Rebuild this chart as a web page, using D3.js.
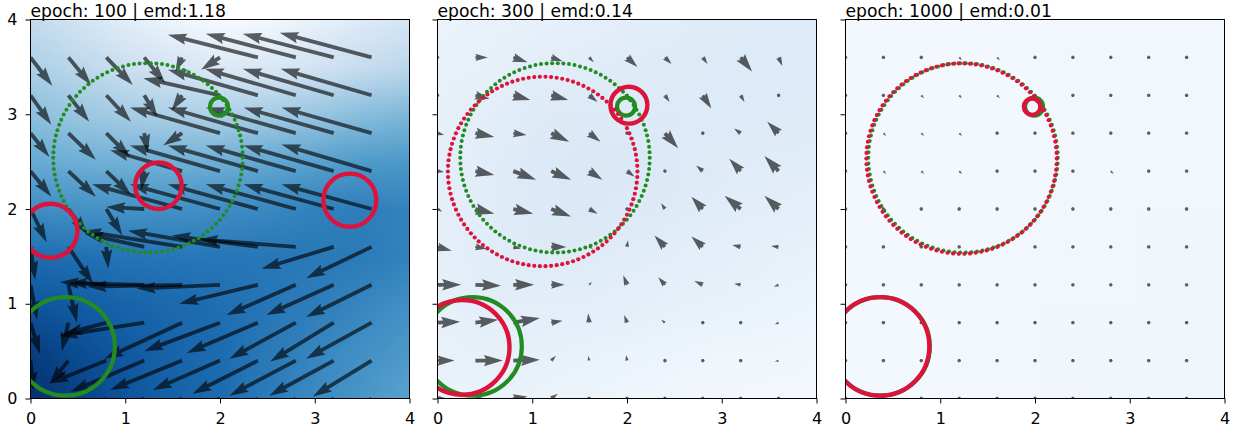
<!DOCTYPE html>
<html>
<head>
<meta charset="utf-8">
<script src="https://cdn.jsdelivr.net/npm/d3@7"></script>
<style>
  body { margin: 0; background: #fff; }
  svg { display: block; }
  text { font-family: "DejaVu Sans", sans-serif; fill: #000; }
</style>
</head>
<body>
<div id="chart"></div>
<script>
// Panel titles and axis ticks
var titles = ["epoch: 100 | emd:1.18", "epoch: 300 | emd:0.14", "epoch: 1000 | emd:0.01"];
var ticks = [0, 1, 2, 3, 4];

// Background potential, Blues colormap value on a grid (rows y=4 -> 0, cols x=0 -> 4)
var heat1 = [
  [0.25, 0.18, 0.11, 0.05, 0.01, 0.03, 0.08, 0.13, 0.17],
  [0.33, 0.28, 0.22, 0.17, 0.14, 0.15, 0.19, 0.24, 0.28],
  [0.42, 0.38, 0.35, 0.33, 0.33, 0.35, 0.39, 0.43, 0.46],
  [0.52, 0.50, 0.49, 0.49, 0.50, 0.53, 0.56, 0.59, 0.60],
  [0.64, 0.63, 0.62, 0.63, 0.64, 0.66, 0.69, 0.70, 0.68],
  [0.77, 0.76, 0.74, 0.73, 0.73, 0.73, 0.72, 0.71, 0.68],
  [0.86, 0.83, 0.80, 0.78, 0.76, 0.73, 0.70, 0.67, 0.63],
  [0.95, 0.89, 0.84, 0.80, 0.77, 0.72, 0.67, 0.63, 0.59],
  [1.00, 0.93, 0.86, 0.81, 0.77, 0.71, 0.65, 0.60, 0.55]
];
var heat2 = [
  [0.06, 0.07, 0.08, 0.09, 0.10, 0.11, 0.12, 0.13, 0.13],
  [0.07, 0.08, 0.10, 0.11, 0.12, 0.12, 0.13, 0.13, 0.13],
  [0.08, 0.10, 0.12, 0.13, 0.13, 0.13, 0.13, 0.13, 0.12],
  [0.09, 0.11, 0.13, 0.14, 0.14, 0.13, 0.12, 0.11, 0.11],
  [0.09, 0.11, 0.13, 0.14, 0.13, 0.12, 0.11, 0.10, 0.09],
  [0.09, 0.11, 0.12, 0.12, 0.11, 0.10, 0.09, 0.08, 0.07],
  [0.08, 0.10, 0.10, 0.10, 0.09, 0.08, 0.07, 0.06, 0.05],
  [0.07, 0.08, 0.08, 0.07, 0.06, 0.05, 0.04, 0.04, 0.03],
  [0.06, 0.06, 0.06, 0.05, 0.04, 0.03, 0.03, 0.02, 0.02]
];
var heat3 = [
  [0.02, 0.02, 0.02, 0.03, 0.03],
  [0.02, 0.02, 0.02, 0.03, 0.03],
  [0.02, 0.02, 0.02, 0.03, 0.03],
  [0.02, 0.02, 0.03, 0.03, 0.04],
  [0.02, 0.02, 0.03, 0.04, 0.04]
];

// Quiver grid (rows top -> bottom)
var gridX = [0, 0.4, 0.8, 1.2, 1.6, 2.0, 2.4, 2.8, 3.2, 3.6];
var gridY = [3.6, 3.2, 2.8, 2.4, 2.0, 1.6, 1.2, 0.8, 0.4, 0.0];

// Epoch 100 gradient field
var u1 = [
  [0.23, 0.24, 0.28, 0.22, -0.07, -0.20, -0.95, -0.95, -0.96, -0.97],
  [0.22, 0.22, 0.26, 0.14, -0.11, -0.81, -0.95, -0.96, -0.96, -0.96],
  [0.20, 0.29, 0.25, 0.04, -0.20, -0.95, -0.95, -0.95, -0.95, -0.95],
  [0.22, 0.29, 0.26, -0.03, -0.76, -0.95, -0.95, -0.95, -0.95, -0.95],
  [0.17, 0.20, 0.17, -0.40, -0.95, -0.95, -0.95, -0.95, -0.95, -0.95],
  [0.05, 0.26, 0.02, -0.63, -1.05, -0.97, -0.91, -1.02, -0.76, -0.69],
  [0.07, 0.09, -0.49, -0.80, -1.00, -0.88, -0.83, -0.73, -0.71, -0.69],
  [0.10, -0.07, -0.45, -0.90, -0.82, -0.80, -0.75, -0.70, -0.67, -0.69],
  [0.03, -0.20, -0.60, -0.78, -0.76, -0.71, -0.69, -0.70, -0.68, -0.62],
  [0.00, -0.15, -0.45, -0.70, -0.72, -0.70, -0.68, -0.68, -0.66, -0.62]
];
var v1 = [
  [-0.30, -0.29, -0.29, -0.27, -0.15, -0.13, 0.24, 0.25, 0.25, 0.26],
  [-0.31, -0.28, -0.28, -0.23, -0.16, 0.18, 0.27, 0.28, 0.28, 0.28],
  [-0.25, -0.28, -0.25, -0.21, -0.13, 0.27, 0.27, 0.27, 0.27, 0.27],
  [-0.27, -0.27, -0.25, -0.20, 0.22, 0.27, 0.27, 0.27, 0.27, 0.28],
  [-0.35, -0.27, -0.28, 0.02, 0.26, 0.26, 0.26, 0.26, 0.26, 0.26],
  [-0.35, -0.39, -0.23, 0.14, 0.17, 0.17, 0.12, 0.08, -0.23, -0.33],
  [-0.37, -0.40, 0.03, 0.02, -0.02, -0.04, -0.20, -0.32, -0.32, -0.34],
  [-0.33, -0.30, -0.12, -0.14, -0.38, -0.30, -0.32, -0.38, -0.41, -0.38],
  [-0.32, -0.25, -0.24, -0.33, -0.31, -0.31, -0.35, -0.37, -0.37, -0.38],
  [-0.30, -0.30, -0.30, -0.33, -0.33, -0.34, -0.36, -0.37, -0.38, -0.38]
];

// Epoch 300 gradient field
var u2 = [
  [0.04, 0.13, 0.15, 0.12, 0.05, 0.11, 0.07, 0.05, 0.12, 0.04],
  [0.04, 0.15, 0.18, 0.18, 0.09, 0.02, 0.05, 0.09, 0.04, -0.03],
  [0.07, 0.20, 0.14, 0.19, 0.12, 0.02, 0.14, 0.02, -0.07, -0.12],
  [0.07, 0.20, 0.24, 0.21, 0.14, 0.08, 0.00, -0.07, -0.12, -0.15],
  [0.05, 0.20, 0.21, 0.21, 0.09, -0.03, -0.04, -0.12, -0.17, -0.15],
  [0.15, 0.12, 0.08, 0.16, 0.04, 0.01, -0.11, -0.12, -0.09, -0.08],
  [0.25, 0.27, 0.22, 0.14, 0.03, -0.04, -0.07, -0.09, -0.07, -0.05],
  [0.24, 0.24, 0.28, 0.12, -0.01, -0.03, -0.04, -0.02, -0.03, -0.04],
  [0.18, 0.29, 0.28, 0.05, -0.01, -0.01, 0.02, 0.00, -0.02, -0.04],
  [0.10, 0.10, 0.15, 0.07, 0.00, 0.00, 0.00, 0.00, 0.00, 0.00]
];
var v2 = [
  [0.00, 0.00, -0.05, -0.04, -0.05, -0.10, -0.07, -0.07, -0.15, -0.09],
  [0.00, -0.04, -0.05, -0.05, -0.07, -0.02, -0.07, -0.14, -0.07, 0.01],
  [-0.02, -0.04, -0.02, -0.09, -0.09, 0.00, -0.16, -0.03, 0.05, 0.12],
  [-0.01, -0.04, -0.09, -0.09, -0.09, -0.06, 0.00, 0.06, 0.13, 0.16],
  [-0.03, -0.05, -0.05, -0.08, -0.05, 0.02, 0.06, 0.13, 0.14, 0.14],
  [-0.04, -0.02, -0.02, 0.00, -0.02, 0.07, 0.12, 0.11, 0.02, 0.01],
  [0.00, -0.01, 0.00, 0.00, 0.03, 0.10, 0.08, 0.04, 0.01, -0.02],
  [0.01, 0.03, 0.05, 0.02, 0.10, 0.08, 0.03, 0.00, 0.00, -0.02],
  [0.00, 0.00, 0.01, 0.05, 0.05, 0.06, -0.02, 0.00, 0.00, -0.01],
  [0.00, 0.00, 0.02, 0.05, 0.02, 0.01, 0.00, 0.00, 0.00, 0.00]
];

// Epoch 1000 gradient field (almost zero)
var u3 = [
  [0, 0, 0, 0.03, 0.03, 0, 0, 0, 0, 0],
  [0, 0, 0.03, 0.03, 0.03, 0, 0, 0, 0, 0],
  [0, 0.03, 0.03, 0.03, 0, 0, 0, 0, 0, 0],
  [0, 0.03, 0.03, 0.03, 0, 0, 0, 0.03, 0, 0],
  [0, 0, 0, 0, 0, 0, 0, 0, 0, 0],
  [0, 0, 0, 0, 0, 0, 0, 0, 0, 0],
  [0, 0, 0, 0, 0, 0, 0, 0, 0, 0],
  [0, 0, 0, 0, 0, 0, 0, 0, 0, 0],
  [0, 0, 0, 0, 0, 0, 0, 0, 0, 0],
  [0, 0, 0, 0, 0, 0, 0, 0, 0, 0]
];
var v3 = [
  [0, 0, 0, -0.03, -0.03, 0, 0, 0, 0, 0],
  [0, 0, -0.03, -0.03, -0.03, 0, 0, 0, 0, 0],
  [0, -0.03, -0.03, -0.03, 0, 0, 0, 0, 0, 0],
  [0, -0.03, -0.03, -0.03, 0, 0, 0, -0.03, 0, 0],
  [0, 0, 0, 0, 0, 0, 0, 0, 0, 0],
  [0, 0, 0, 0, 0, 0, 0, 0, 0, 0],
  [0, 0, 0, 0, 0, 0, 0, 0, 0, 0],
  [0, 0, 0, 0, 0, 0, 0, 0, 0, 0],
  [0, 0, 0, 0, 0, 0, 0, 0, 0, 0],
  [0, 0, 0, 0, 0, 0, 0, 0, 0, 0]
];

// Point rings: [cx, cy, radius, number of points (0 = dense ring)]
var targetRings = [[1.24, 2.54, 1.00, 106], [1.99, 3.08, 0.095, 0], [0.37, 0.55, 0.52, 0]];
var currentRings1 = [[0.21, 1.77, 0.285, 0], [1.35, 2.245, 0.245, 0], [3.37, 2.093, 0.28, 0]];
var currentRings2 = [[1.11, 2.396, 1.00, 106], [2.02, 3.096, 0.195, 0], [0.26, 0.54, 0.50, 0]];
var currentRings3 = [[1.225, 2.532, 1.005, 106], [1.97, 3.08, 0.087, 0], [0.365, 0.55, 0.52, 0]];

var heats = [heat1, heat2, heat3];
var us = [u1, u2, u3], vs = [v1, v2, v3];
var currents = [currentRings1, currentRings2, currentRings3];

// Layout
var panelLeft = [30.5, 437.5, 845.5],
    panelTop = 19.5,
    size = 379,
    arrowWidth = 3.8;

var svg = d3.select("#chart").append("svg")
    .attr("width", 1236)
    .attr("height", 427);

// matplotlib style quiver arrow polygon
function arrowPath(x0, y0, dx, dy, w) {
  var L = Math.sqrt(dx * dx + dy * dy) / w;
  var pts;
  if (L < 1) {
    pts = d3.range(7).map(function(k) {
      var a = k * Math.PI / 3;
      return [0.5 * Math.cos(a), 0.5 * Math.sin(a)];
    });
  } else if (L < 5) {
    var s = L / 5;
    pts = [[0, 0.5], [0.5, 0.5], [0, 1.5], [5, 0], [0, -1.5], [0.5, -0.5], [0, -0.5]]
      .map(function(p) { return [p[0] * s, p[1] * s]; });
  } else {
    pts = [[0, 0.5], [L - 4.5, 0.5], [L - 5, 1.5], [L, 0], [L - 5, -1.5], [L - 4.5, -0.5], [0, -0.5]];
  }
  var th = Math.atan2(dy, dx), c = Math.cos(th), sn = Math.sin(th);
  return "M" + pts.map(function(p) {
    var px = p[0] * w, py = p[1] * w;
    return (x0 + px * c - py * sn).toFixed(2) + "," + (y0 + px * sn + py * c).toFixed(2);
  }).join("L") + "Z";
}

function drawRings(plot, rings, x, y, color, dotR, strokeW) {
  rings.forEach(function(ring) {
    if (ring[3] > 0) {
      var pts = d3.range(ring[3]).map(function(i) {
        var a = 2 * Math.PI * i / ring[3];
        return [ring[0] + ring[2] * Math.cos(a), ring[1] + ring[2] * Math.sin(a)];
      });
      plot.append("g").selectAll("circle")
          .data(pts)
        .enter().append("circle")
          .attr("cx", function(d) { return x(d[0]); })
          .attr("cy", function(d) { return y(d[1]); })
          .attr("r", dotR)
          .attr("fill", color);
    } else {
      plot.append("circle")
          .attr("cx", x(ring[0]))
          .attr("cy", y(ring[1]))
          .attr("r", x(ring[2]) - x(0))
          .attr("fill", "none")
          .attr("stroke", color)
          .attr("stroke-width", strokeW);
    }
  });
}

titles.forEach(function(title, p) {
  var x = d3.scaleLinear().domain([0, 4]).range([0, size]);
  var y = d3.scaleLinear().domain([0, 4]).range([size, 0]);

  var g = svg.append("g")
      .attr("transform", "translate(" + panelLeft[p] + "," + panelTop + ")");

  g.append("clipPath").attr("id", "clip" + p)
    .append("rect").attr("width", size).attr("height", size);

  var plot = g.append("g").attr("clip-path", "url(#clip" + p + ")");

  // Heatmap: tiny canvas, smoothly upscaled like imshow bilinear
  var heat = heats[p], rows = heat.length, cols = heat[0].length;
  var canvas = document.createElement("canvas");
  canvas.width = cols; canvas.height = rows;
  var ctx = canvas.getContext("2d");
  var img = ctx.createImageData(cols, rows);
  heat.forEach(function(row, r) {
    row.forEach(function(val, c) {
      var col = d3.rgb(d3.interpolateBlues(val)), k = (r * cols + c) * 4;
      img.data[k] = col.r; img.data[k + 1] = col.g; img.data[k + 2] = col.b; img.data[k + 3] = 255;
    });
  });
  ctx.putImageData(img, 0, 0);
  var sx = 4 / (cols - 1), sy = 4 / (rows - 1);
  plot.append("image")
      .attr("href", canvas.toDataURL())
      .attr("x", x(-sx / 2))
      .attr("y", y(4 + sy / 2))
      .attr("width", x(4 + sx / 2) - x(-sx / 2))
      .attr("height", y(-sy / 2) - y(4 + sy / 2))
      .attr("preserveAspectRatio", "none");

  // Quiver arrows
  var arrows = [];
  gridY.forEach(function(gy, r) {
    gridX.forEach(function(gx, c) {
      arrows.push({x: gx, y: gy, u: us[p][r][c], v: vs[p][r][c]});
    });
  });
  plot.append("g").selectAll("path")
      .data(arrows)
    .enter().append("path")
      .attr("d", function(d) {
        return arrowPath(x(d.x), y(d.y), x(d.x + d.u) - x(d.x), y(d.y + d.v) - y(d.y), arrowWidth);
      })
      .attr("fill", "#000")
      .attr("fill-opacity", 0.62);

  // Target (green) and current (red) samples
  drawRings(plot, targetRings, x, y, "forestgreen", 2.0, 4.2);
  drawRings(plot, currents[p], x, y, "crimson", 2.1, 4.4);

  // Spines
  g.append("rect")
      .attr("width", size).attr("height", size)
      .attr("fill", "none").attr("stroke", "#000").attr("stroke-width", 1);

  // Axes
  var xAxis = g.append("g")
      .attr("transform", "translate(0," + size + ")")
      .call(d3.axisBottom(x).tickValues(ticks).tickSize(5).tickSizeOuter(0).tickPadding(9)
        .tickFormat(d3.format("d")));
  var yAxis = g.append("g")
      .call(d3.axisLeft(y).tickValues(ticks).tickSize(5).tickSizeOuter(0).tickPadding(8)
        .tickFormat(p === 0 ? d3.format("d") : function() { return ""; }));
  [xAxis, yAxis].forEach(function(a) {
    a.select(".domain").remove();
    a.selectAll("line").attr("stroke", "#000");
    a.selectAll("text").style("font-size", "16px").style("font-family", "DejaVu Sans").attr("fill", "#000");
  });

  // Title
  g.append("text")
      .attr("x", 0)
      .attr("y", -3)
      .style("font-size", "17.2px")
      .text(title);
});
</script>
</body>
</html>
